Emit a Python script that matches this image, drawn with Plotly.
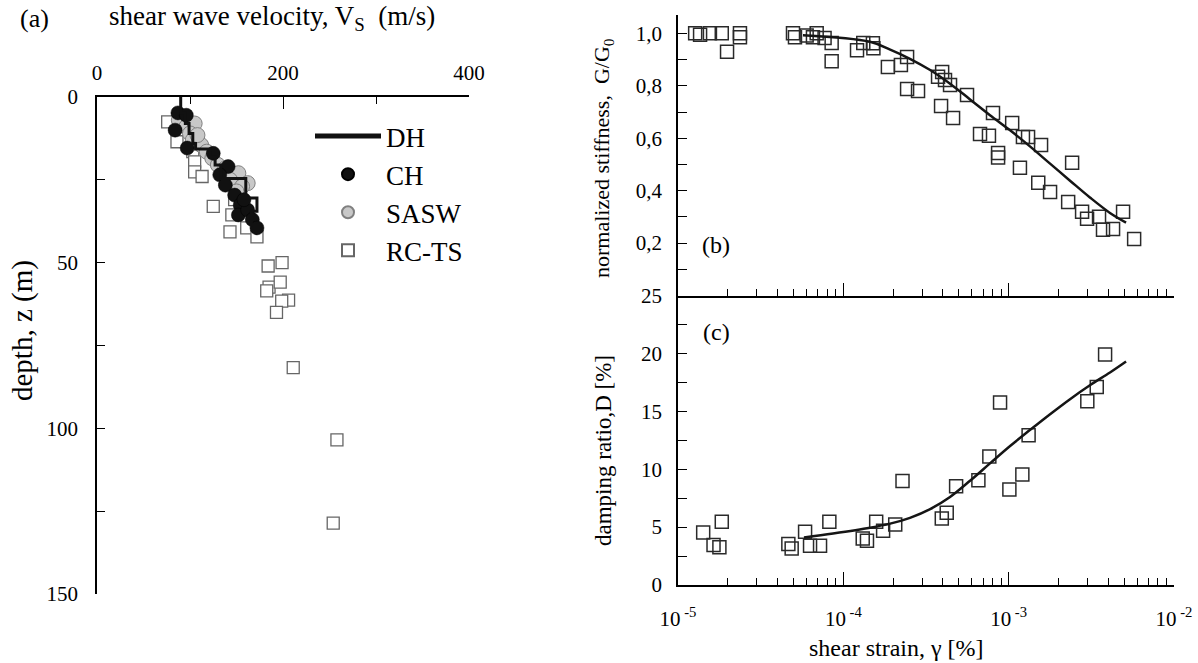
import plotly.graph_objects as go

FONT = "Liberation Serif"

# ---------------- Panel (a): shear wave velocity profile ----------------
dh_vs = [90, 95, 99, 103, 106, 121, 127, 133, 160, 172, 166, 166]
dh_z = [0, 4.8, 8, 11, 14, 15.7, 18, 20.5, 24.6, 30.5, 34.5, 39]

ch_vs = [87, 96, 84, 97, 125, 141, 132, 138, 148, 154, 152, 162, 167, 172, 158]
ch_z = [4.8, 5.5, 10, 15.4, 17, 21, 23.5, 26.6, 29.6, 32.6, 35.6, 34.1, 37, 39.5, 31]

sasw_vs = [88, 96, 105, 100, 103, 112, 118, 124, 130, 138, 144, 152, 162, 143, 156, 150, 108]
sasw_z = [7, 9, 8, 11, 13, 14.5, 16.5, 18.5, 20.5, 21.5, 23.5, 23, 26, 25, 27, 28.5, 11.5]

rcts_vs = [76, 86, 103, 105, 105, 113, 125, 148, 145, 143, 161, 172,
           184, 199, 185, 182.5, 197, 206, 198.6, 193, 211, 258, 254]
rcts_z = [7.5, 13.5, 16.5, 19.6, 22.6, 24, 33, 31, 35.6, 40.7, 39.5, 42.2,
          51, 50, 57.4, 58.5, 55.9, 61.3, 61.6, 65, 81.7, 103.5, 128.6]

# ---------------- Panel (b): normalized stiffness ----------------
g_strain = [1.27e-5, 1.36e-5, 1.56e-5, 1.84e-5, 1.98e-5, 2.37e-5, 2.37e-5,
            4.96e-5, 5.1e-5, 6.0e-5, 6.55e-5, 6.9e-5, 7.7e-5, 8.5e-5, 8.5e-5,
            1.21e-4, 1.32e-4, 1.51e-4, 1.52e-4, 1.86e-4, 2.23e-4, 2.43e-4, 2.43e-4,
            2.83e-4, 3.74e-4, 3.96e-4, 4.12e-4, 4.42e-4, 3.90e-4, 4.61e-4, 5.60e-4,
            6.71e-4, 7.60e-4, 8.04e-4, 8.63e-4, 8.63e-4, 1.05e-3, 1.17e-3, 1.22e-3,
            1.31e-3, 1.57e-3, 1.51e-3, 1.78e-3, 2.42e-3, 2.29e-3, 2.78e-3, 2.98e-3,
            3.52e-3, 3.72e-3, 4.28e-3, 4.92e-3, 5.74e-3]
g_ratio = [1.0, 0.995, 1.0, 1.0, 0.93, 1.0, 0.985,
           1.0, 0.985, 0.992, 0.985, 1.0, 0.982, 0.963, 0.894,
           0.936, 0.963, 0.962, 0.943, 0.872, 0.879, 0.91, 0.788,
           0.78, 0.834, 0.853, 0.822, 0.803, 0.723, 0.677, 0.765,
           0.616, 0.609, 0.696, 0.544, 0.526, 0.658, 0.487, 0.605,
           0.605, 0.574, 0.43, 0.395, 0.506, 0.357, 0.319, 0.293,
           0.30, 0.251, 0.254, 0.319, 0.216]

g_fit_strain = [5.70e-5, 1.45e-4, 1.92e-4, 2.53e-4, 3.35e-4, 4.42e-4, 5.84e-4, 7.71e-4,
                1.02e-3, 1.35e-3, 1.78e-3, 2.35e-3, 3.10e-3, 4.10e-3, 5.13e-3]
g_fit_ratio = [0.993, 0.968, 0.938, 0.903, 0.860, 0.808, 0.748, 0.688,
               0.630, 0.568, 0.503, 0.438, 0.374, 0.315, 0.278]

# ---------------- Panel (c): damping ratio ----------------
d_strain = [1.42e-5, 1.64e-5, 1.78e-5, 1.84e-5, 4.65e-5, 4.87e-5, 5.87e-5, 6.29e-5,
            7.23e-5, 8.23e-5, 1.31e-4, 1.39e-4, 1.58e-4, 1.74e-4, 2.06e-4, 2.28e-4,
            3.94e-4, 4.22e-4, 4.81e-4, 6.56e-4, 7.64e-4, 8.87e-4, 1.01e-3, 1.21e-3,
            1.32e-3, 2.99e-3, 3.41e-3, 3.83e-3]
d_ratio = [4.53, 3.45, 3.25, 5.46, 3.53, 3.16, 4.6, 3.4,
           3.4, 5.46, 4.02, 3.82, 5.46, 4.68, 5.22, 8.99,
           5.75, 6.23, 8.53, 9.05, 11.1, 15.75, 8.25, 9.54,
           12.93, 15.86, 17.09, 19.91]

d_fit_strain = [5.78e-5, 8.67e-5, 1.45e-4, 1.92e-4, 2.53e-4, 3.35e-4, 4.42e-4, 5.84e-4,
                7.71e-4, 1.02e-3, 1.35e-3, 1.78e-3, 2.35e-3, 3.10e-3, 4.10e-3, 5.13e-3]
d_fit_ratio = [4.1, 4.45, 4.95, 5.3, 5.8, 6.55, 7.6, 9.0,
               10.5, 12.0, 13.4, 14.75, 16.05, 17.25, 18.35, 19.3]

# tick labels
a_xticks = [0, 200, 400]
a_yticks = [0, 50, 100, 150]
b_yticks = [0.2, 0.4, 0.6, 0.8, 1.0]
b_yticktext = ["0,2", "0,4", "0,6", "0,8", "1,0"]
c_yticks = [0, 5, 10, 15, 20, 25]
log_ticks = [1e-5, 1e-4, 1e-3, 1e-2]
log_ticktext = ["10<sup> -5</sup>", "10<sup> -4</sup>", "10<sup> -3</sup>", "10<sup> -2</sup>"]

W, H = 1198, 663


def px_x(p):
    return p / W


def px_y(p):
    return 1 - p / H


fig = go.Figure()

# Panel (a) traces (order bottom -> top)
fig.add_trace(go.Scatter(x=rcts_vs, y=rcts_z, mode="markers", name="RC-TS", legendgroup="d",
                         marker=dict(symbol="square", size=12, color="white",
                                     line=dict(color="#666666", width=1.3)),
                         xaxis="x", yaxis="y"))
fig.add_trace(go.Scatter(x=sasw_vs, y=sasw_z, mode="markers", name="SASW", legendgroup="c",
                         marker=dict(symbol="circle", size=15, color="#c8c8c8",
                                     line=dict(color="#808080", width=1)),
                         xaxis="x", yaxis="y"))
fig.add_trace(go.Scatter(x=ch_vs, y=ch_z, mode="markers", name="CH", legendgroup="b",
                         marker=dict(symbol="circle", size=14, color="#111111",
                                     line=dict(color="#000000", width=0.5)),
                         xaxis="x", yaxis="y"))
fig.add_trace(go.Scatter(x=dh_vs, y=dh_z, mode="lines", name="DH", legendgroup="a",
                         line=dict(color="#111111", width=3, shape="vh"),
                         xaxis="x", yaxis="y"))

# Panel (b)
fig.add_trace(go.Scatter(x=g_strain, y=g_ratio, mode="markers", showlegend=False,
                         marker=dict(symbol="square-open", size=13, color="#2a2a2a",
                                     line=dict(width=1.5)),
                         xaxis="x2", yaxis="y2"))
fig.add_trace(go.Scatter(x=g_fit_strain, y=g_fit_ratio, mode="lines", showlegend=False,
                         line=dict(color="#151515", width=2.5, shape="spline", smoothing=1.0),
                         xaxis="x2", yaxis="y2"))

# Panel (c)
fig.add_trace(go.Scatter(x=d_strain, y=d_ratio, mode="markers", showlegend=False,
                         marker=dict(symbol="square-open", size=13, color="#2a2a2a",
                                     line=dict(width=1.5)),
                         xaxis="x3", yaxis="y3"))
fig.add_trace(go.Scatter(x=d_fit_strain, y=d_fit_ratio, mode="lines", showlegend=False,
                         line=dict(color="#151515", width=2.5, shape="spline", smoothing=1.0),
                         xaxis="x3", yaxis="y3"))

tickfont = dict(family=FONT, size=21, color="black")
common = dict(showline=True, linecolor="black", linewidth=1.5, showgrid=False,
              zeroline=False, ticks="inside", tickcolor="black", tickwidth=1.3,
              tickfont=tickfont, automargin=False)

minor_log = [k * 10 ** e for e in (-5, -4, -3) for k in range(2, 10)]

fig.update_layout(
    width=W, height=H, margin=dict(l=0, r=0, t=0, b=0, autoexpand=False),
    paper_bgcolor="white", plot_bgcolor="white",
    font=dict(family=FONT, color="black"),
    xaxis=dict(**common, domain=[px_x(97), px_x(469)], range=[0, 400], side="top",
               anchor="y", tickvals=a_xticks, ticklen=12, ticklabelstandoff=7,
               minor=dict(tickvals=[100, 300], ticklen=7, ticks="inside",
                          tickcolor="black", tickwidth=1.3)),
    yaxis=dict(**common, domain=[px_y(594), px_y(97)], range=[150, 0], anchor="x",
               tickvals=a_yticks, ticklen=8, ticklabelstandoff=13,
               minor=dict(tickvals=[25, 75, 125], ticklen=8, ticks="inside",
                          tickcolor="black", tickwidth=1.3)),
    xaxis2=dict(**common, type="log", domain=[px_x(678), px_x(1174)], range=[-5, -2],
                anchor="y2", tickvals=log_ticks, showticklabels=False, ticklen=13,
                minor=dict(tickvals=minor_log, ticklen=7, ticks="inside",
                           tickcolor="black", tickwidth=1.3)),
    yaxis2=dict(**common, domain=[px_y(295.5), px_y(15)], range=[0, 1.07], anchor="x2",
                tickvals=b_yticks, ticktext=b_yticktext, ticklen=9, ticklabelstandoff=10,
                minor=dict(tickvals=[0.1, 0.3, 0.5, 0.7, 0.9, 1.07], ticklen=9,
                           ticks="inside", tickcolor="black", tickwidth=1.3)),
    xaxis3=dict(**common, type="log", domain=[px_x(678), px_x(1174)], range=[-5, -2],
                anchor="y3", tickvals=log_ticks, ticktext=log_ticktext, ticklen=13,
                ticklabelstandoff=14,
                minor=dict(tickvals=minor_log, ticklen=7, ticks="inside",
                           tickcolor="black", tickwidth=1.3)),
    yaxis3=dict(**common, domain=[px_y(585), px_y(295.5)], range=[0, 25], anchor="x3",
                tickvals=c_yticks, ticklen=9, ticklabelstandoff=10,
                minor=dict(tickvals=[2.5, 7.5, 12.5, 17.5, 22.5], ticklen=9,
                           ticks="inside", tickcolor="black", tickwidth=1.3)),
    showlegend=True,
    legend=dict(x=px_x(310), y=px_y(112), xanchor="left", yanchor="top",
                font=dict(family=FONT, size=27, color="black"),
                bgcolor="rgba(0,0,0,0)", traceorder="reversed", itemsizing="constant",
                tracegroupgap=2, itemwidth=66),
)

def note(text, x, y, size, angle=0):
    fig.add_annotation(text=text, x=px_x(x), y=px_y(y), xref="paper", yref="paper",
                       showarrow=False, textangle=angle,
                       font=dict(family=FONT, size=size, color="black"),
                       xanchor="center", yanchor="middle")

note("(a)", 34, 18, 26)
note("shear wave velocity, V<sub>S</sub>  (m/s)", 272, 18, 27)
note("depth, z (m)", 22, 331, 29, -90)
note("normalized stiffness,  G/G<sub>0</sub>", 603, 158, 22, -90)
note("damping ratio,D [%]", 603, 451, 23, -90)
note("shear strain, γ [%]", 896, 648, 24)
note("(b)", 716, 245, 24)
note("(c)", 716, 332, 24)

fig.write_html("out.html", config={"displayModeBar": False},
               post_script="document.body.style.margin='0';document.body.style.overflow='hidden';")
